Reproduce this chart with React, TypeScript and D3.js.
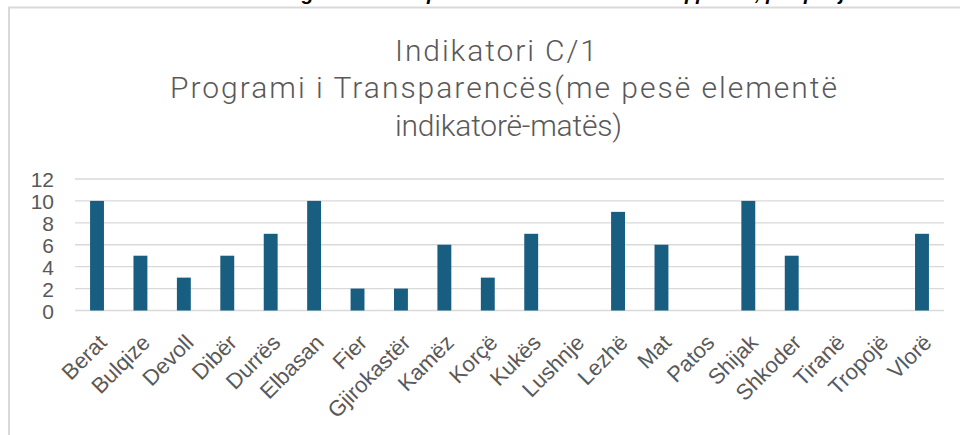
import React, { useEffect, useRef } from 'react';
import * as d3 from 'd3';

const categories = ['Berat', 'Bulqize', 'Devoll', 'Dibër', 'Durrës', 'Elbasan', 'Fier', 'Gjirokastër', 'Kamëz', 'Korçë', 'Kukës', 'Lushnje', 'Lezhë', 'Mat', 'Patos', 'Shijak', 'Shkoder', 'Tiranë', 'Tropojë', 'Vlorë'];
const values = [10, 5, 3, 5, 7, 10, 2, 2, 6, 3, 7, 0, 9, 6, 0, 10, 5, 0, 0, 7];
const yTicks = [0, 2, 4, 6, 8, 10, 12];
const titleLines = ['Indikatori C/1', 'Programi i Transparencës(me pesë elementë', 'indikatorë-matës)'];

const W = 960;
const H = 435;
const FONT = '"Liberation Sans", Arial, sans-serif';
const TITLE_FONT = 'Roboto, "Liberation Sans", sans-serif';

const App: React.FC = () => {
  const svgRef = useRef<SVGSVGElement>(null);

  useEffect(() => {
    if (!svgRef.current) return;
    const svg = d3.select(svgRef.current);
    svg.selectAll('*').remove();

    // heading of the page above the chart, mostly cut off
    svg.append('text')
      .attr('x', 14)
      .attr('y', 0)
      .attr('font-family', FONT)
      .attr('font-size', 20)
      .attr('font-weight', 'bold')
      .attr('font-style', 'italic')
      .attr('fill', '#000')
      .text('Grafiku nr. 3 Indikatori C/1 Programi i Transparencës në bashkitë e Shqipërisë, përqindja e zbatimit');

    // chart frame
    svg.append('rect')
      .attr('x', 9).attr('y', 7.5)
      .attr('width', W + 20).attr('height', H + 20)
      .attr('fill', '#fff')
      .attr('stroke', '#d9d9d9')
      .attr('stroke-width', 2);

    const title = svg.append('g')
      .attr('font-family', TITLE_FONT)
      .attr('font-weight', 300)
      .attr('font-size', 30)
      .attr('fill', '#595959');
    const titleX = [395, 170, 395];
    const titleY = [61, 98, 136];
    const titleLens = [202, 667, 227];
    titleLines.forEach((t, i) => {
      title.append('text')
        .attr('x', titleX[i])
        .attr('y', titleY[i])
        .attr('textLength', titleLens[i])
        .attr('lengthAdjust', 'spacing')
        .text(t);
    });

    const x = d3.scaleBand<string>()
      .domain(categories)
      .range([75.3, 943.7])
      .paddingInner(0.68)
      .paddingOuter(0.34);

    const y = d3.scaleLinear().domain([0, 12]).range([310.5, 179]);

    const grid = svg.append('g');
    grid.selectAll('line')
      .data(yTicks)
      .join('line')
      .attr('x1', 75).attr('x2', 944)
      .attr('y1', d => y(d)).attr('y2', d => y(d))
      .attr('stroke', '#d9d9d9')
      .attr('stroke-width', 1.3);

    const yAxis = d3.axisLeft(y).tickValues(yTicks).tickSize(0).tickPadding(0);
    const ya = svg.append('g').attr('transform', 'translate(54,0)').call(yAxis);
    ya.select('.domain').remove();
    ya.selectAll('text')
      .attr('font-family', FONT)
      .attr('font-size', 21)
      .attr('fill', '#595959')
      .attr('dy', '0.36em');

    svg.append('g')
      .selectAll('rect')
      .data(values)
      .join('rect')
      .attr('x', (d, i) => x(categories[i])!)
      .attr('y', d => y(d))
      .attr('width', x.bandwidth())
      .attr('height', d => y(0) - y(d))
      .attr('fill', '#175e80');

    const xAxis = d3.axisBottom(x).tickSize(0).tickPadding(0);
    const xa = svg.append('g').attr('transform', 'translate(0,310)').call(xAxis);
    xa.select('.domain').remove();
    xa.selectAll('text')
      .attr('font-family', FONT)
      .attr('font-size', 22)
      .attr('fill', '#595959')
      .attr('text-anchor', 'end')
      .attr('dy', null)
      .attr('y', 0)
      .attr('transform', 'translate(11,34) rotate(-45)');
  }, []);

  return (
    <svg
      ref={svgRef}
      width={W}
      height={H}
      style={{ position: 'absolute', left: 0, top: 0, background: '#fff' }}
    />
  );
};

export default App;
